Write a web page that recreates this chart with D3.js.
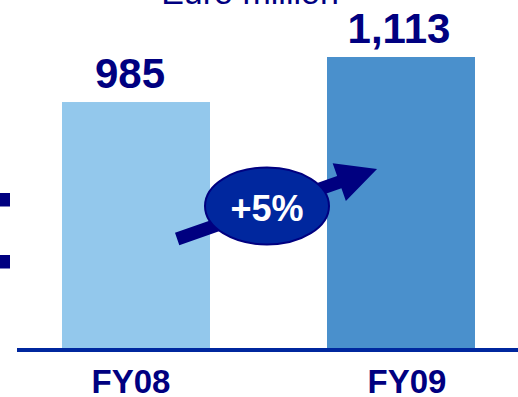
<!DOCTYPE html>
<html>
<head>
<meta charset="utf-8">
<script src="https://cdn.jsdelivr.net/npm/d3@7"></script>
<style>
  html, body { margin: 0; padding: 0; background: #fff; }
  svg { display: block; font-family: "Liberation Sans", Arial, sans-serif; }
</style>
</head>
<body>
<svg id="chart" width="518" height="397"></svg>
<script>
// Revenue, Euro million
const categories = ["FY08", "FY09"];
const values = [985, 1113];
const valueLabels = ["985", "1,113"];
const growthLabel = "+5%";
const unitLabel = "Euro million";

const barColors = ["#93C8EC", "#4A90CC"];
const navy = "#000080";
const royal = "#00279E";

const svg = d3.select("#chart");
const baseY = 350;

const x = d3.scaleBand()
  .domain(categories)
  .range([62, 475])
  .paddingInner(0.4415)
  .paddingOuter(0);

// value axis starts above zero (broken axis)
const y = d3.scaleLinear()
  .domain([280, 1113])
  .range([baseY, 57]);

// unit title, partly above the visible area
svg.append("text")
  .attr("x", 250).attr("y", 4)
  .attr("text-anchor", "middle")
  .attr("font-size", 34)
  .attr("fill", navy)
  .text(unitLabel);

// bullet markers at left edge
svg.selectAll("rect.bullet")
  .data([193, 255])
  .enter().append("rect")
  .attr("class", "bullet")
  .attr("x", 0).attr("y", d => d)
  .attr("width", 10).attr("height", 13.5)
  .attr("fill", navy);

// bars
svg.selectAll("rect.bar")
  .data(values)
  .enter().append("rect")
  .attr("class", "bar")
  .attr("x", (d, i) => x(categories[i]))
  .attr("y", d => y(d))
  .attr("width", x.bandwidth())
  .attr("height", d => baseY - y(d))
  .attr("fill", (d, i) => barColors[i]);

// value labels
svg.selectAll("text.val")
  .data(values)
  .enter().append("text")
  .attr("class", "val")
  .attr("x", (d, i) => x(categories[i]) + x.bandwidth() / 2 - 6 + i * 4)
  .attr("y", d => y(d) - 14)
  .attr("text-anchor", "middle")
  .attr("font-size", 42)
  .attr("font-weight", "bold")
  .attr("fill", navy)
  .text((d, i) => valueLabels[i]);

// baseline
svg.append("rect")
  .attr("x", 17).attr("y", baseY - 2)
  .attr("width", 501).attr("height", 4)
  .attr("fill", royal);

// category labels
svg.selectAll("text.cat")
  .data(categories)
  .enter().append("text")
  .attr("class", "cat")
  .attr("x", (d, i) => x(d) + x.bandwidth() / 2 - 5 + i * 11)
  .attr("y", 393)
  .attr("text-anchor", "middle")
  .attr("font-size", 33)
  .attr("font-weight", "bold")
  .attr("fill", navy)
  .text(d => d);

// growth arrow from FY08 towards FY09
const tail = [x(categories[0]) + x.bandwidth() * 0.778, 239];
const tip = [x(categories[1]) + x.bandwidth() * 0.338, 169];
const dx = tip[0] - tail[0], dy = tip[1] - tail[1];
const len = Math.hypot(dx, dy);
const ux = dx / len, uy = dy / len;
const nx = -uy, ny = ux;
const shaftW = 13, headLen = 40, headW = 40;
const hb = [tip[0] - ux * headLen, tip[1] - uy * headLen];
const pts = [
  [tail[0] + nx * shaftW / 2, tail[1] + ny * shaftW / 2],
  [hb[0] + nx * shaftW / 2, hb[1] + ny * shaftW / 2],
  [hb[0] + nx * headW / 2, hb[1] + ny * headW / 2],
  tip,
  [hb[0] - nx * headW / 2, hb[1] - ny * headW / 2],
  [hb[0] - nx * shaftW / 2, hb[1] - ny * shaftW / 2],
  [tail[0] - nx * shaftW / 2, tail[1] - ny * shaftW / 2]
];
svg.append("path")
  .attr("d", d3.line()(pts) + "Z")
  .attr("fill", navy);

// growth badge
svg.append("ellipse")
  .attr("cx", 267).attr("cy", 206)
  .attr("rx", 62).attr("ry", 38.5)
  .attr("fill", royal)
  .attr("stroke", navy)
  .attr("stroke-width", 2);

svg.append("text")
  .attr("x", 267).attr("y", 221)
  .attr("text-anchor", "middle")
  .attr("font-size", 36)
  .attr("font-weight", "bold")
  .attr("fill", "#fff")
  .text(growthLabel);
</script>
</body>
</html>
